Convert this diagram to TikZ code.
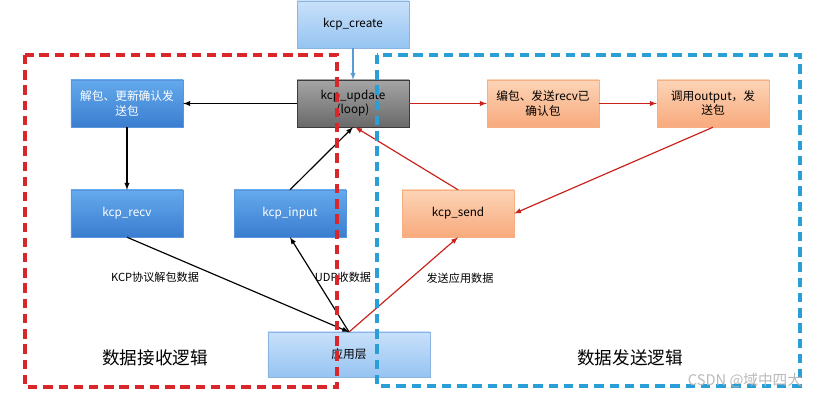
\documentclass[tikz,border=0pt]{standalone}
\usepackage{fontspec}
\setmainfont{Noto Sans CJK SC}
\usetikzlibrary{positioning, arrows}

\definecolor{darkred}{HTML}{C9211B}
\definecolor{dashred}{HTML}{D8262A}
\definecolor{dashblue}{HTML}{2A9ED6}
\definecolor{linkblue}{HTML}{5B9BD5}

\begin{document}
\begin{tikzpicture}[x=0.03cm, y=-0.03cm, >=latex,
	box/.style={rectangle, minimum width=3.36cm, minimum height=1.41cm, inner sep=1pt,
		align=center, font=\fontsize{10}{12}\selectfont},
	bluebox/.style={box, draw={rgb,255:red,90;green,150;blue,220}, top color={rgb,255:red,100;green,170;blue,236},
		bottom color={rgb,255:red,58;green,125;blue,208}, text=white},
	lightbox/.style={box, draw={rgb,255:red,140;green,180;blue,225},
		top color={rgb,255:red,200;green,224;blue,250}, bottom color={rgb,255:red,150;green,196;blue,242}},
	greybox/.style={box, draw={rgb,255:red,60;green,60;blue,60},
		top color={rgb,255:red,165;green,165;blue,165}, bottom color={rgb,255:red,105;green,105;blue,105}},
	orangebox/.style={box, draw={rgb,255:red,245;green,175;blue,130},
		top color={rgb,255:red,252;green,212;blue,182}, bottom color={rgb,255:red,248;green,170;blue,125}},
	lbl/.style={font=\fontsize{9.5}{11}\selectfont, inner sep=1pt},
	title/.style={font=\fontsize{15}{18}\selectfont},
	groupframe/.style={line width=2.6pt, dash pattern=on 8pt off 5pt}]

	\useasboundingbox (0,0) rectangle (837,400);

	\node[lightbox] (create) at (353,24.5) {kcp\_create};
	\node[greybox] (update) at (353,103.5) {kcp\_update\\(loop)};
	\node[bluebox] (unpack) at (127,103.5) {解包、更新确认发\\送包};
	\node[bluebox] (recv) at (127,213.5) {kcp\_recv};
	\node[bluebox] (input) at (290,213.5) {kcp\_input};
	\node[orangebox] (send) at (458,213.5) {kcp\_send};
	\node[orangebox] (pack) at (543,103.5) {编包、发送recv已\\确认包};
	\node[orangebox] (output) at (713,103.5) {调用output，发\\送包};
	\node[lightbox, minimum width=4.86cm, minimum height=1.35cm] (app) at (349,354.5) {应用层};
	\coordinate (apptop) at (349,332);

	\node[lbl] (l1) at (155,277) {KCP协议解包数据};
	\node[lbl] (l2) at (343,277) {UDP收数据};
	\node[lbl] (l3) at (460,278) {发送应用数据};
	\node[title] (t1) at (155,358) {数据接收逻辑};
	\node[title] (t2) at (630,358) {数据发送逻辑};

	\draw [->, linkblue, line width=1pt] (create) -- (update);
	\path [->, line width=1pt]
		(update) edge[] node{} (unpack)
		(unpack) edge[] node{} (recv)
		(recv.south) edge[] node{} (apptop)
		(apptop) edge[] node{} (input.south)
		(input.north) edge[] node{} (update.south)
		;
	\path [->, darkred, line width=1pt]
		(update) edge[] node{} (pack)
		(pack) edge[] node{} (output)
		(output.south) edge[] node{} (send.east)
		(send.north) edge[] node{} ([xshift=2pt]update.south)
		(apptop) edge[] node{} (send.south)
		;

	% dashed frames on top
	\draw[groupframe, dashred] (25,55) rectangle (337,387);
	\draw[groupframe, dashblue] (377,55) rectangle (800,386);

	\node[font=\fontsize{12.5}{14}\selectfont, text=gray!55] (mark) at (745,381) {CSDN @域中四大};
\end{tikzpicture}
\end{document}
